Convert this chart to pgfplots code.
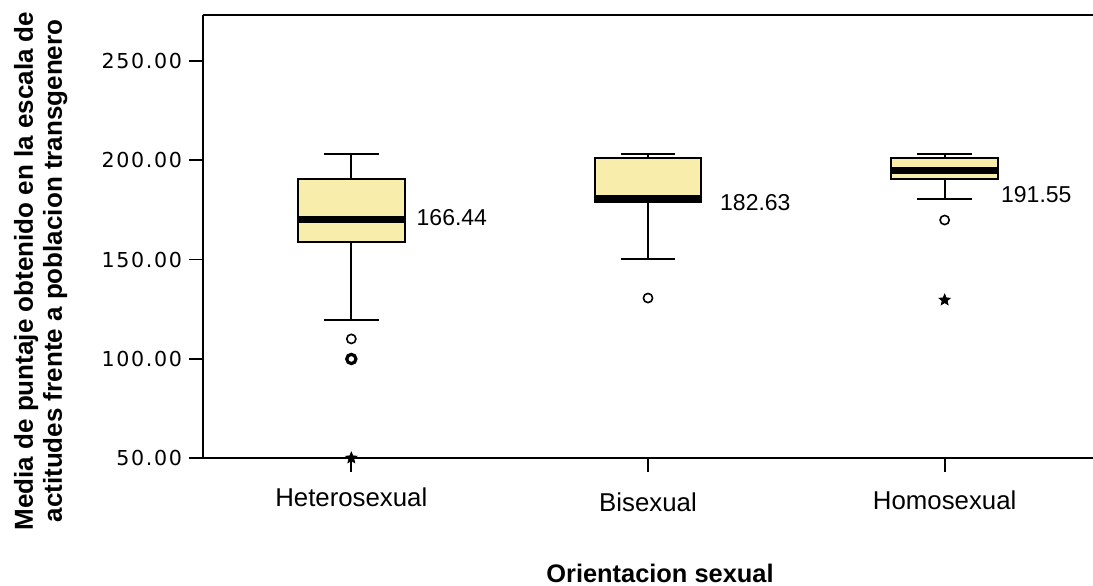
\documentclass[border=0pt]{standalone}
\usepackage{fontspec}
\setmainfont{Liberation Sans}
\newfontfamily\tickfont[LetterSpace=8]{DejaVu Sans}
\usepackage{pgfplots}
\pgfplotsset{compat=1.18}
\definecolor{boxfill}{RGB}{248,237,170}

\pgfdeclareplotmark{fstar}{%
  \pgfpathmoveto{\pgfpointpolar{90}{\pgfplotmarksize}}%
  \pgfpathlineto{\pgfpointpolar{126}{0.45\pgfplotmarksize}}%
  \pgfpathlineto{\pgfpointpolar{162}{\pgfplotmarksize}}%
  \pgfpathlineto{\pgfpointpolar{198}{0.45\pgfplotmarksize}}%
  \pgfpathlineto{\pgfpointpolar{234}{\pgfplotmarksize}}%
  \pgfpathlineto{\pgfpointpolar{270}{0.45\pgfplotmarksize}}%
  \pgfpathlineto{\pgfpointpolar{306}{\pgfplotmarksize}}%
  \pgfpathlineto{\pgfpointpolar{342}{0.45\pgfplotmarksize}}%
  \pgfpathlineto{\pgfpointpolar{18}{\pgfplotmarksize}}%
  \pgfpathlineto{\pgfpointpolar{54}{0.45\pgfplotmarksize}}%
  \pgfpathclose
  \pgfusepathqfillstroke
}

\begin{document}
\begin{tikzpicture}
\useasboundingbox (-101.5pt,-63.5pt) rectangle (445pt,229pt);
\begin{axis}[
  at={(0,0)}, anchor=south west,
  width=445pt, height=221.5pt, scale only axis,
  xmin=-0.5, xmax=2.5, ymin=50, ymax=273.2,
  separate axis lines,
  axis x line*=box, axis y line*=left,
  axis line style={line width=1pt, black},
  xtick={0,1,2},
  xticklabels={Heterosexual,\raisebox{-2.5pt}[\height][\depth]{Bisexual},\raisebox{-1.5pt}[\height][\depth]{Homosexual}},
  xtick pos=left,
  ytick={50,100,150,200,250},
  yticklabels={50.00,100.00,150.00,200.00,250.00},
  tick align=outside,
  major tick length=7pt,
  tick style={black, line width=0.9pt},
  yticklabel style={font=\tickfont\fontsize{10.3pt}{12pt}\selectfont, text=black},
  xticklabel style={font=\fontsize{12.9pt}{14pt}\selectfont, yshift=-4.5pt},
  clip=false,
]
% ---- Heterosexual (x=0): whiskers 119.5 / 203.0, box 159.0-190.6, median 170.2
\addplot[black, line width=0.9pt] coordinates {(0,119.5) (0,159.0)};
\addplot[black, line width=0.9pt] coordinates {(0,190.6) (0,203.0)};
\addplot[black, line width=0.9pt] coordinates {(-0.0925,119.5) (0.0925,119.5)};
\addplot[black, line width=0.9pt] coordinates {(-0.0925,203.0) (0.0925,203.0)};
\addplot[draw=black, line width=1pt, fill=boxfill] coordinates
  {(-0.18,159.0) (0.18,159.0) (0.18,190.6) (-0.18,190.6)} -- cycle;
\addplot[black, line width=3.5pt] coordinates {(-0.18,170.2) (0.18,170.2)};
% ---- Bisexual (x=1): whiskers 150.3 / 203.1, box 179.1-201.1, median 180.7
\addplot[black, line width=0.9pt] coordinates {(1,150.3) (1,179.1)};
\addplot[black, line width=0.9pt] coordinates {(1,201.1) (1,203.1)};
\addplot[black, line width=0.9pt] coordinates {(0.9075,150.3) (1.0925,150.3)};
\addplot[black, line width=0.9pt] coordinates {(0.9075,203.1) (1.0925,203.1)};
\addplot[draw=black, line width=1pt, fill=boxfill] coordinates
  {(0.82,179.1) (1.18,179.1) (1.18,201.1) (0.82,201.1)} -- cycle;
\addplot[black, line width=3.5pt] coordinates {(0.82,180.7) (1.18,180.7)};
% ---- Homosexual (x=2): whiskers 180.5 / 203.1, box 190.6-201.1, median 195.1
\addplot[black, line width=0.9pt] coordinates {(2,180.5) (2,190.6)};
\addplot[black, line width=0.9pt] coordinates {(2,201.1) (2,203.1)};
\addplot[black, line width=0.9pt] coordinates {(1.9075,180.5) (2.0925,180.5)};
\addplot[black, line width=0.9pt] coordinates {(1.9075,203.1) (2.0925,203.1)};
\addplot[draw=black, line width=1pt, fill=boxfill] coordinates
  {(1.82,190.6) (2.18,190.6) (2.18,201.1) (1.82,201.1)} -- cycle;
\addplot[black, line width=3.5pt] coordinates {(1.82,195.1) (2.18,195.1)};

% outliers (circles)
\addplot[only marks, mark=o, mark size=2.3pt,
  mark options={draw=black, fill=white, line width=0.8pt}]
  coordinates {(0,110) (1,130.6) (2,169.9)};
% repeated outliers at 100
\addplot[only marks, mark=o, mark size=2.3pt,
  mark options={draw=black, fill=white, line width=1.6pt}]
  coordinates {(0,99.9)};
% extreme values (stars)
\addplot[only marks, mark=fstar, mark size=3pt,
  mark options={draw=black, fill=black, line width=0.3pt}]
  coordinates {(0,50) (2,129.6)};

\node[anchor=west, inner sep=0pt, font=\fontsize{11.5pt}{12pt}\selectfont]
  at (axis cs:0.219,170.9) {166.44};
\node[anchor=west, inner sep=0pt, font=\fontsize{11.5pt}{12pt}\selectfont]
  at (axis cs:1.242,178.5) {182.63};
\node[anchor=west, inner sep=0pt, font=\fontsize{11.5pt}{12pt}\selectfont]
  at (axis cs:2.189,182.5) {191.55};
\end{axis}
\node[rotate=90, align=center, inner sep=0pt,
  font=\bfseries\fontsize{13pt}{14.5pt}\selectfont]
  at (-81.2pt,93.5pt) {Media de puntaje obtenido en la escala de\\actitudes frente a poblacion transgenero};
\node[inner sep=0pt, font=\bfseries\fontsize{12.7pt}{13.5pt}\selectfont]
  at (228.5pt,-57.5pt) {Orientacion sexual};
\end{tikzpicture}
\end{document}
